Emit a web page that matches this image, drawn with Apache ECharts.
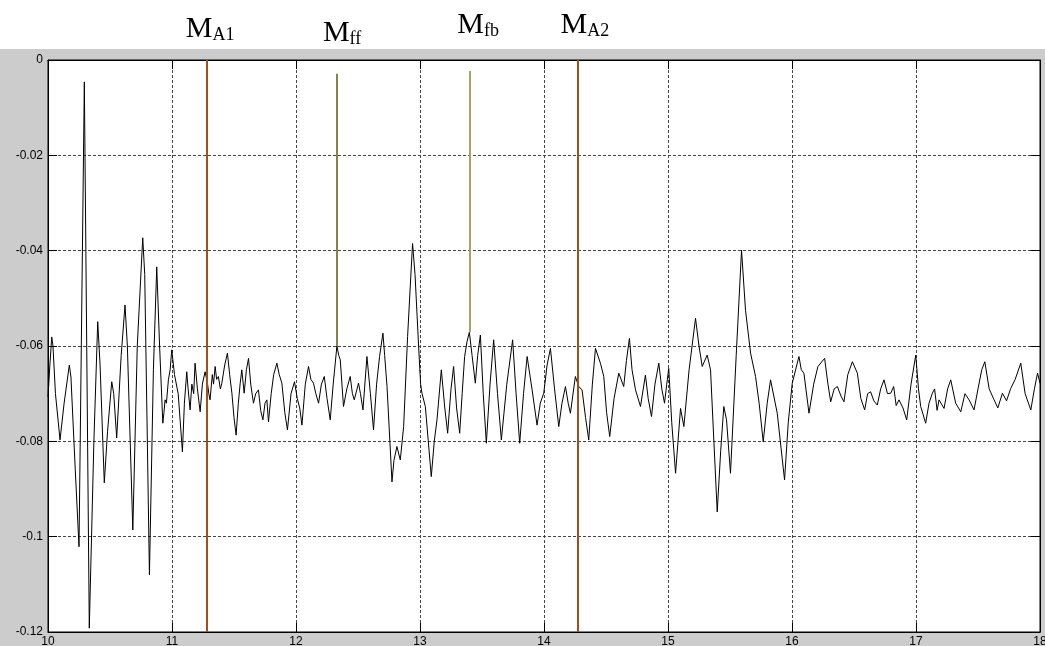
<!DOCTYPE html>
<html>
<head>
<meta charset="utf-8">
<script src="https://cdn.jsdelivr.net/npm/echarts@6/dist/echarts.min.js"></script>
<style>html,body{margin:0;padding:0;background:#fff}#c{width:1045px;height:646px}</style>
</head>
<body>
<div id="c"></div>
<script>
// time axis (s) and signal values
const time = [
10.000,10.015,10.030,10.040,10.060,10.097,10.130,10.172,10.185,10.220,
10.250,10.293,10.333,10.370,10.401,10.420,10.454,10.480,10.514,10.530,
10.554,10.590,10.621,10.640,10.684,10.720,10.764,10.780,10.818,10.850,
10.877,10.900,10.926,10.935,10.944,10.955,10.971,10.985,10.998,11.020,
11.050,11.084,11.100,11.119,11.130,11.146,11.160,11.175,11.186,11.205,
11.227,11.245,11.267,11.286,11.297,11.307,11.325,11.335,11.348,11.360,
11.374,11.390,11.402,11.425,11.447,11.465,11.483,11.500,11.517,11.535,
11.550,11.563,11.582,11.600,11.617,11.635,11.657,11.675,11.697,11.715,
11.733,11.750,11.765,11.778,11.800,11.820,11.846,11.865,11.886,11.910,
11.931,11.960,11.988,12.010,12.030,12.048,12.075,12.101,12.120,12.141,
12.160,12.182,12.205,12.228,12.250,12.276,12.300,12.330,12.345,12.357,
12.383,12.410,12.437,12.455,12.470,12.504,12.520,12.540,12.572,12.600,
12.625,12.650,12.674,12.701,12.715,12.734,12.774,12.790,12.814,12.841,
12.868,12.900,12.940,12.960,12.989,13.005,13.016,13.043,13.091,13.115,
13.137,13.172,13.200,13.223,13.250,13.271,13.295,13.320,13.340,13.360,
13.380,13.398,13.420,13.446,13.465,13.487,13.510,13.535,13.565,13.594,
13.625,13.656,13.700,13.747,13.775,13.804,13.835,13.864,13.904,13.944,
13.970,13.998,14.025,14.052,14.085,14.119,14.145,14.173,14.195,14.213,
14.253,14.280,14.307,14.335,14.361,14.390,14.415,14.455,14.482,14.505,
14.530,14.565,14.603,14.643,14.665,14.689,14.710,14.738,14.778,14.818,
14.840,14.867,14.895,14.926,14.950,14.972,14.990,15.006,15.030,15.061,
15.101,15.128,15.170,15.222,15.250,15.276,15.316,15.343,15.370,15.397,
15.425,15.450,15.472,15.504,15.550,15.593,15.625,15.666,15.706,15.735,
15.768,15.800,15.827,15.881,15.910,15.940,15.970,16.002,16.056,16.075,
16.096,16.137,16.175,16.209,16.263,16.290,16.312,16.340,16.366,16.395,
16.419,16.450,16.487,16.527,16.555,16.586,16.610,16.634,16.660,16.688,
16.715,16.742,16.770,16.796,16.820,16.840,16.863,16.895,16.925,16.960,
16.998,17.020,17.038,17.078,17.105,17.132,17.150,17.170,17.186,17.226,
17.255,17.280,17.320,17.361,17.395,17.428,17.468,17.500,17.530,17.555,
17.590,17.630,17.660,17.697,17.730,17.764,17.800,17.845,17.880,17.926,
17.955,17.980,18.000
];
const signal = [
-0.0707,-0.0640,-0.0581,-0.0600,-0.0700,-0.0797,-0.0720,-0.0640,-0.0665,-0.0860,
-0.1021,-0.0046,-0.1192,-0.0800,-0.0549,-0.0640,-0.0887,-0.0780,-0.0675,-0.0700,
-0.0793,-0.0620,-0.0514,-0.0600,-0.0986,-0.0600,-0.0373,-0.0450,-0.1080,-0.0650,
-0.0434,-0.0600,-0.0762,-0.0740,-0.0713,-0.0720,-0.0671,-0.0650,-0.0608,-0.0660,
-0.0700,-0.0822,-0.0720,-0.0654,-0.0690,-0.0734,-0.0680,-0.0700,-0.0636,-0.0690,
-0.0738,-0.0680,-0.0654,-0.0678,-0.0700,-0.0713,-0.0660,-0.0680,-0.0643,-0.0670,
-0.0664,-0.0690,-0.0678,-0.0640,-0.0615,-0.0660,-0.0699,-0.0750,-0.0787,-0.0720,
-0.0678,-0.0650,-0.0699,-0.0650,-0.0626,-0.0680,-0.0720,-0.0700,-0.0692,-0.0735,
-0.0755,-0.0720,-0.0713,-0.0759,-0.0700,-0.0660,-0.0636,-0.0660,-0.0678,-0.0740,
-0.0776,-0.0700,-0.0675,-0.0710,-0.0730,-0.0766,-0.0680,-0.0643,-0.0670,-0.0678,
-0.0700,-0.0720,-0.0680,-0.0664,-0.0710,-0.0755,-0.0680,-0.0600,-0.0620,-0.0629,
-0.0727,-0.0690,-0.0664,-0.0700,-0.0713,-0.0678,-0.0700,-0.0734,-0.0622,-0.0700,
-0.0776,-0.0680,-0.0622,-0.0573,-0.0620,-0.0685,-0.0885,-0.0840,-0.0811,-0.0839,
-0.0769,-0.0580,-0.0385,-0.0450,-0.0601,-0.0680,-0.0699,-0.0727,-0.0874,-0.0800,
-0.0755,-0.0650,-0.0730,-0.0783,-0.0690,-0.0643,-0.0730,-0.0783,-0.0700,-0.0622,
-0.0590,-0.0571,-0.0620,-0.0678,-0.0620,-0.0577,-0.0700,-0.0804,-0.0680,-0.0587,
-0.0700,-0.0797,-0.0680,-0.0587,-0.0700,-0.0804,-0.0700,-0.0622,-0.0692,-0.0766,
-0.0720,-0.0699,-0.0640,-0.0605,-0.0690,-0.0769,-0.0720,-0.0685,-0.0720,-0.0741,
-0.0664,-0.0685,-0.0692,-0.0750,-0.0797,-0.0680,-0.0605,-0.0636,-0.0664,-0.0740,
-0.0790,-0.0710,-0.0657,-0.0685,-0.0630,-0.0584,-0.0650,-0.0692,-0.0727,-0.0661,
-0.0710,-0.0748,-0.0680,-0.0636,-0.0690,-0.0720,-0.0680,-0.0647,-0.0760,-0.0867,
-0.0731,-0.0769,-0.0650,-0.0542,-0.0600,-0.0643,-0.0619,-0.0650,-0.0800,-0.0948,
-0.0820,-0.0727,-0.0755,-0.0867,-0.0620,-0.0399,-0.0525,-0.0615,-0.0664,-0.0720,
-0.0801,-0.0720,-0.0671,-0.0741,-0.0810,-0.0881,-0.0760,-0.0678,-0.0622,-0.0650,
-0.0657,-0.0741,-0.0680,-0.0643,-0.0626,-0.0680,-0.0717,-0.0690,-0.0685,-0.0705,
-0.0717,-0.0660,-0.0633,-0.0657,-0.0710,-0.0734,-0.0700,-0.0696,-0.0715,-0.0724,
-0.0690,-0.0671,-0.0700,-0.0699,-0.0685,-0.0725,-0.0713,-0.0730,-0.0755,-0.0680,
-0.0619,-0.0690,-0.0727,-0.0762,-0.0720,-0.0699,-0.0690,-0.0735,-0.0713,-0.0731,
-0.0690,-0.0671,-0.0720,-0.0738,-0.0700,-0.0713,-0.0734,-0.0690,-0.0650,-0.0633,
-0.0690,-0.0713,-0.0730,-0.0699,-0.0715,-0.0689,-0.0670,-0.0636,-0.0700,-0.0734,
-0.0690,-0.0657,-0.0678
];
// axis ticks
const xTicks = { min: 10, max: 18, step: 1 };
const yTicks = { min: -0.12, max: 0, step: 0.02 };
// marker lines
const markerMain = ['A1', 'A2'];
const markerMainX = [11.28, 14.27];
const markerSub = ['ff', 'fb'];
const markerSubX = [12.33, 13.398];
const markerSubTop = [-0.0029, -0.0023];
const markerSubBottom = [-0.0600, -0.0571];

const chart = echarts.init(document.getElementById('c'), null, { renderer: 'canvas' });
const pts = time.map((t, i) => [t, signal[i]]);

const rich = {
  m: { fontFamily: 'Liberation Serif', fontSize: 30, lineHeight: 30, color: '#000', verticalAlign: 'bottom' },
  s: { fontFamily: 'Liberation Serif', fontSize: 18, lineHeight: 14, color: '#000', verticalAlign: 'bottom' }
};
const labelPos = { A1: [-21, -46], ff: [-14, -42], fb: [-12, -50], A2: [-17, -50] };
const labelPoints = [];
markerMain.forEach((n, i) => labelPoints.push({ name: n, x: markerMainX[i] }));
markerSub.forEach((n, i) => labelPoints.push({ name: n, x: markerSubX[i] }));

const gridLine = { show: true, lineStyle: { color: '#444', width: 1, type: [3, 2] } };
const axisBase = {
  type: 'value',
  axisLine: { show: true, onZero: false, lineStyle: { color: '#000', width: 1 } },
  axisTick: { show: true, inside: true, length: 9, lineStyle: { color: '#000' } }
};
const labelFont = { color: '#000', fontFamily: 'Liberation Sans', fontSize: 12 };

chart.setOption({
  animation: false,
  backgroundColor: '#cccccc',
  graphic: { elements: [{ type: 'rect', silent: true, z: -10, shape: { x: 0, y: 0, width: 1045, height: 49 }, style: { fill: '#ffffff' } }] },
  grid: { left: 48, top: 60, width: 992, height: 572, show: true, backgroundColor: '#ffffff', borderColor: '#000', borderWidth: 1, outerBoundsMode: 'none', containLabel: false },
  xAxis: [
    Object.assign({}, axisBase, { position: 'bottom', min: xTicks.min, max: xTicks.max, interval: xTicks.step,
      splitLine: gridLine, axisLabel: Object.assign({ margin: 4 }, labelFont) }),
    Object.assign({}, axisBase, { position: 'top', min: xTicks.min, max: xTicks.max, interval: xTicks.step,
      splitLine: { show: false }, axisLabel: { show: false } })
  ],
  yAxis: [
    Object.assign({}, axisBase, { position: 'left', min: yTicks.min, max: yTicks.max, interval: yTicks.step,
      splitLine: gridLine, axisLabel: Object.assign({ margin: 5 }, labelFont) }),
    Object.assign({}, axisBase, { position: 'right', min: yTicks.min, max: yTicks.max, interval: yTicks.step,
      splitLine: { show: false }, axisLabel: { show: false } })
  ],
  series: [
    {
      type: 'line', data: pts, showSymbol: false, symbol: 'none', z: 3,
      lineStyle: { color: '#000', width: 1 },
      markLine: {
        silent: true, symbol: 'none', animation: false,
        label: { show: false },
        data: [
          ...markerMainX.map(x => ({ xAxis: x, lineStyle: { color: '#a0501c', width: 2, type: 'solid' } })),
          ...markerSubX.map((x, i) => [
            { coord: [x, markerSubBottom[i]], lineStyle: { color: i === 0 ? '#84844a' : '#a3a366', width: 2, type: 'solid' } },
            { coord: [x, markerSubTop[i]] }
          ])
        ]
      },
      markPoint: {
        silent: true, animation: false, symbol: 'circle', symbolSize: 0,
        data: labelPoints.map(p => ({
          coord: [p.x, 0],
          label: { show: true, position: labelPos[p.name], formatter: '{m|M}{s|' + p.name + '}', rich: rich }
        }))
      }
    }
  ]
});
</script>
</body>
</html>
